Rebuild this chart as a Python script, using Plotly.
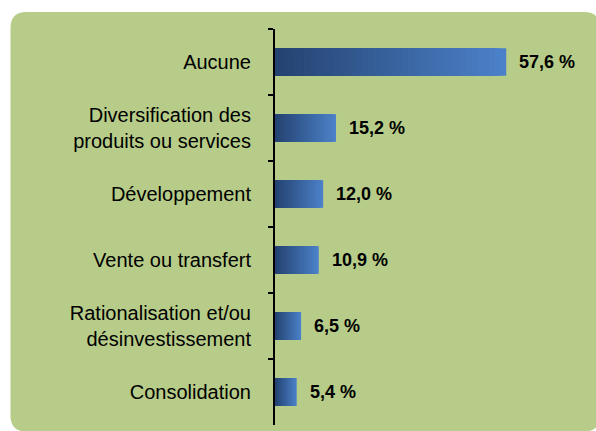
import plotly.graph_objects as go

categories = ["Aucune", "Diversification des<br>produits ou services", "Développement",
              "Vente ou transfert", "Rationalisation et/ou<br>désinvestissement", "Consolidation"]
values = [57.6, 15.2, 12.0, 10.9, 6.5, 5.4]

W, H = 596, 431
L, R, T, B = 275, 40, 29, 6
PW, PH = W - L - R, H - T - B

dark = (36, 66, 112)
light = (76, 130, 202)
N = 40

fig = go.Figure()
for k in range(N):
    frac = (N - k) / N
    f = (N - k - 0.5) / N
    col = tuple(round(dark[i] + (light[i] - dark[i]) * f) for i in range(3))
    fig.add_trace(go.Bar(
        y=categories, x=[v * frac for v in values], orientation="h",
        marker=dict(color=f"rgb{col}", line=dict(width=0)),
        hoverinfo="skip", showlegend=False))

for c, v in zip(categories, values):
    fig.add_annotation(x=v, y=c, xref="x", yref="y", xanchor="left", yanchor="middle",
                       xshift=11, showarrow=False,
                       text="<b>" + f"{v:.1f}".replace(".", ",") + " %</b>",
                       font=dict(family="Liberation Sans, Arial", size=18, color="black"))

def px(x):
    return (x - L) / PW

def py(y):
    return (H - B - y) / PH

x0, x1, y0, y1, r = 10.5, 600, 12, 431.5, 16
path = (f"M {px(x0+r)},{py(y0)} L {px(x1-r)},{py(y0)} Q {px(x1)},{py(y0)} {px(x1)},{py(y0+r)} "
        f"L {px(x1)},{py(y1-r)} Q {px(x1)},{py(y1)} {px(x1-r)},{py(y1)} "
        f"L {px(x0+r)},{py(y1)} Q {px(x0)},{py(y1)} {px(x0)},{py(y1-r)} "
        f"L {px(x0)},{py(y0+r)} Q {px(x0)},{py(y0)} {px(x0+r)},{py(y0)} Z")
fig.add_shape(type="path", path=path, xref="paper", yref="paper",
              fillcolor="#b7cc89", line=dict(width=0), layer="below")

fig.update_layout(
    width=W, height=H, margin=dict(l=L, r=R, t=T, b=B, pad=0),
    barmode="overlay", bargap=0.58,
    paper_bgcolor="white", plot_bgcolor="rgba(0,0,0,0)",
    font=dict(family="Liberation Sans, Arial", color="black"),
    xaxis=dict(range=[0, 70], visible=False, showgrid=False, zeroline=False),
    yaxis=dict(type="category", autorange="reversed", tickson="boundaries",
               ticks="outside", ticklen=5, tickwidth=2, tickcolor="black",
               showline=True, linewidth=2, linecolor="black", showgrid=False,
               ticklabelstandoff=18,
               tickfont=dict(family="Liberation Sans, Arial", size=20, color="black")),
)

fig.write_html("out.html", config={"displayModeBar": False},
               post_script="document.body.style.margin='0';document.body.style.overflow='hidden';")
